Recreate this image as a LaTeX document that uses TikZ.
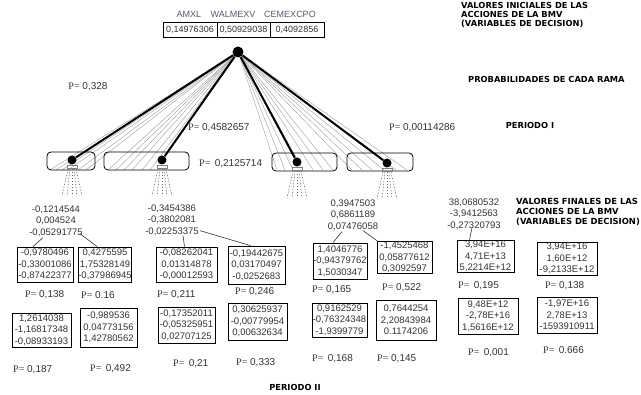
\documentclass[tikz,border=0pt]{standalone}
\usepackage{fontspec}
\usepackage{graphicx}
\setmainfont{Liberation Sans}
\newfontfamily\lblfont{DejaVu Sans}
\newfontfamily\pserif{Liberation Serif}
\usetikzlibrary{calc}
\newcommand\PEq{{\pserif P=}}
\definecolor{hdr}{rgb}{0.36,0.34,0.42}
\definecolor{txt}{rgb}{0.2,0.2,0.2}
\tikzset{
  num/.style={font=\fontsize{9.5}{11.5}\selectfont, align=center, inner sep=0pt, text=txt},
  nbox/.style={draw, line width=0.8pt, align=center, inner sep=0pt, text=txt,
    font=\fontsize{9.5}{11.5}\selectfont},
  plab/.style={font=\fontsize{10}{12}\selectfont, inner sep=0pt, anchor=west, text=txt},
  ttl/.style={font=\lblfont\bfseries\fontsize{8.3}{9.2}\selectfont, align=left, inner sep=0pt, anchor=north west},
  hcell/.style={draw, line width=0.6pt, minimum height=15pt, inner sep=0pt, font=\fontsize{9}{11}\selectfont, text=txt},
  rbox/.style={draw, line width=0.8pt, rounded corners=4pt, minimum height=18pt, inner sep=0pt},
  dotn/.style={circle, fill=black, inner sep=0pt, minimum size=9pt},
  thinl/.style={draw=gray!70, line width=0.45pt},
  thickl/.style={draw=black, line width=2pt},
  fanl/.style={draw=gray!80!black, line width=0.5pt, dash pattern=on 1.5pt off 1.5pt},
  conn/.style={draw=txt, line width=0.6pt}
}
\begin{document}
\begin{tikzpicture}[x=1pt,y=-1pt]
\useasboundingbox (0,0) rectangle (641,395);
\fill[white] (0,0) rectangle (641,395);

% header
\node[font=\fontsize{9}{11}\selectfont, text=hdr, inner sep=0pt] (hA) at (189,14) {AMXL};
\node[font=\fontsize{9}{11}\selectfont, text=hdr, inner sep=0pt] (hW) at (233,14) {WALMEXV};
\node[font=\fontsize{9}{11}\selectfont, text=hdr, inner sep=0pt] (hC) at (290,14) {CEMEXCPO};
\node[hcell, minimum width=54pt] (c1) at (190,29.5) {0,14976306};
\node[hcell, minimum width=53pt] (c2) at (243.5,29.5) {0,50929038};
\node[hcell, minimum width=54pt] (c3) at (297,29.5) {0,4092856};

% right titles
\node[ttl] (t1) at (461,2) {VALORES INICIALES DE LAS\\ACCIONES DE LA BMV\\(VARIABLES DE DECISION)};
\node[ttl] (t2) at (468,76) {PROBABILIDADES DE CADA RAMA};
\node[ttl, anchor=center] (t3) at (530,125) {PERIODO I};
\node[ttl, font=\lblfont\bfseries\fontsize{8.4}{10}\selectfont] (t4) at (516,198) {VALORES FINALES DE LAS\\ACCIONES DE LA BMV\\(VARIABLES DE DECISION)};
\node[ttl, anchor=center] (t5) at (295,387) {PERIODO II};

% tree root
\node[dotn, minimum size=11pt] (root) at (238,52) {};

% thin lines
\foreach \x [count=\i] in {50,56,62,68,78,86} {
  \coordinate (ta\i) at (\x,170);
  \draw[thinl] (root) -- (ta\i);
}
\foreach \x [count=\i] in {108,116,124,132,142,150} {
  \coordinate (tb\i) at (\x,170);
  \draw[thinl] (root) -- (tb\i);
}
\foreach \x [count=\i] in {277,285,293,303,313,323,333} {
  \coordinate (tc\i) at (\x,170);
  \draw[thinl] (root) -- (tc\i);
}
\foreach \x [count=\i] in {352,362,372,384,396,407} {
  \coordinate (td\i) at (\x,170);
  \draw[thinl] (root) -- (td\i);
}

% period I boxes
\node[rbox, minimum width=48pt] (r1) at (71,161) {};
\node[rbox, minimum width=85pt] (r2) at (146.5,161) {};
\node[rbox, minimum width=65pt] (r3) at (304.5,162) {};
\node[rbox, minimum width=66pt] (r4) at (380,162) {};

% dots
\node[dotn] (d1) at (72,160) {};
\node[dotn] (d2) at (162,160) {};
\node[dotn] (d3) at (297,162) {};
\node[dotn] (d4) at (387,163) {};
\draw[thickl] (root) -- (d1);
\draw[thickl] (root) -- (d2);
\draw[thickl] (root) -- (d3);
\draw[thickl] (root) -- (d4);

% small fans below dots
\foreach \d in {d1,d2,d3,d4} {
  \node[draw=gray, line width=0.4pt, minimum width=10pt, minimum height=3pt, inner sep=0pt]
    (m\d) at ($(\d)+(0,6.5)$) {};
  \foreach \k in {-2,-1,0,1,2} {
    \coordinate (fs\d\k) at ($(\d)+(2*\k,9)$);
    \coordinate (fe\d\k) at ($(\d)+(5*\k,36)$);
    \draw[fanl] (fs\d\k) -- (fe\d\k);
  }
}

% period I probabilities
\node[plab, anchor=center] (p1) at (88,87) {\PEq{} 0,328};
\node[plab] (p2) at (188,128) {\PEq{} 0,4582657};
\node[plab] (p3) at (199,164) {\PEq{} \,0,2125714};
\node[plab] (p4) at (389,128) {\PEq{} 0,00114286};

% period II group labels
\node[num] (g1) at (56,221) {-0,1214544\\0,004524\\-0,05291775};
\node[num] (g2) at (172,220) {-0,3454386\\-0,3802081\\-0,02253375};
\node[num] (g3) at (353,215) {0,3947503\\0,6861189\\0,07476058};
\node[num] (g4) at (474,214) {38,0680532\\-3,9412563\\-0,27320793};

% period II boxes, row 1
\node[nbox, minimum width=56pt, minimum height=35pt] (b1a) at (45,264.5) {-0,9780496\\-0,33001086\\-0,87422377};
\node[nbox, minimum width=52pt, minimum height=35pt] (b1b) at (105,264.5) {0,4275595\\1,75328149\\-0,37986945};
\node[nbox, minimum width=61pt, minimum height=35pt] (b2a) at (186.5,264.5) {-0,08262041\\0,01314878\\-0,00012593};
\node[nbox, minimum width=57pt, minimum height=38pt] (b2b) at (256.5,265) {-0,19442675\\0,03170497\\-0,0252683};
\node[nbox, minimum width=54pt, minimum height=36pt] (b3a) at (340,261) {1,4046776\\-0,94379762\\1,5030347};
\node[nbox, minimum width=55pt, minimum height=32pt] (b3b) at (404.5,257.5) {-1,4525468\\0,05877612\\0,3092597};
\node[nbox, minimum width=57pt, minimum height=32pt] (b4a) at (485.5,256.5) {3,94E+16\\4,71E+13\\5,2214E+12};
\node[nbox, minimum width=60pt, minimum height=33pt] (b4b) at (567,258.5) {3,94E+16\\1,60E+12\\-9,2133E+12};

% row 1 probabilities
\node[plab] (q1) at (25,295) {\PEq{} 0,138};
\node[plab] (q2) at (81,295) {\PEq{} 0.16};
\node[plab] (q3) at (157,295) {\PEq{} 0,211};
\node[plab] (q4) at (235,292) {\PEq{} 0,246};
\node[plab] (q5) at (312,290) {\PEq{} 0,165};
\node[plab] (q6) at (382,288) {\PEq{} 0,522};
\node[plab] (q7) at (458,286) {\PEq{} \,0,195};
\node[plab] (q8) at (545,286) {\PEq{} 0,138};

% period II boxes, row 2
\node[nbox, minimum width=59pt, minimum height=34pt] (b1c) at (41.5,330) {1,2614038\\-1,16817348\\-0,08933193};
\node[nbox, minimum width=57pt, minimum height=39pt] (b1d) at (108.5,327.5) {-0,989536\\0,04773156\\1,42780562};
\node[nbox, minimum width=57pt, minimum height=36pt] (b2c) at (186.5,325) {-0,17352011\\-0,05325951\\0,02707125};
\node[nbox, minimum width=59pt, minimum height=37pt] (b2d) at (257.5,321.5) {0,30625937\\-0,00779954\\0,00632634};
\node[nbox, minimum width=55pt, minimum height=34pt] (b3c) at (339.5,320) {0,9162529\\-0,76324348\\-1,9399779};
\node[nbox, minimum width=60pt, minimum height=40pt] (b3d) at (406,320) {0,7644254\\2,20843984\\0.1174206};
\node[nbox, minimum width=60pt, minimum height=36pt] (b4c) at (488,316) {9,48E+12\\-2,78E+16\\1,5616E+12};
\node[nbox, minimum width=60pt, minimum height=36pt] (b4d) at (567,315) {-1,97E+16\\2,78E+13\\-1593910911};

% row 2 probabilities
\node[plab] (s1) at (13,370) {\PEq{} 0,187};
\node[plab] (s2) at (90,369) {\PEq{} \,0,492};
\node[plab] (s3) at (173,364) {\PEq{} \,0,21};
\node[plab] (s4) at (236,363) {\PEq{} 0,333};
\node[plab] (s5) at (312,359) {\PEq{} \,0,168};
\node[plab] (s6) at (377,359) {\PEq{} 0,145};
\node[plab] (s7) at (468,353) {\PEq{} \,0,001};
\node[plab] (s8) at (543,350) {\PEq{} \,0.666};

% connectors from group labels to boxes
\draw[conn] ($(g1.south)+(-13,1)$) -- ($(b1a.north)+(-12,0)$);
\draw[conn] ($(g1.south)+(24,-3)$) -- ($(b1b.north)+(-8,0)$);
\draw[conn] ($(g2.south)+(11,0)$) -- ($(b2a.north)+(-2,0)$);
\draw[conn] ($(g2.south east)+(1,-5)$) -- ($(b2b.north)+(-6,0)$);
\draw[conn] ($(g3.south)+(-11,1)$) -- ($(b3a.north)+(-7,0)$);
\draw[conn] ($(g3.south)+(10,0)$) -- ($(b3b.north)+(-27,0)$);
\draw[conn] ($(g4.south)+(-2,-2)$) -- ($(b4a.north)+(-16,0)$);
\end{tikzpicture}
\end{document}
